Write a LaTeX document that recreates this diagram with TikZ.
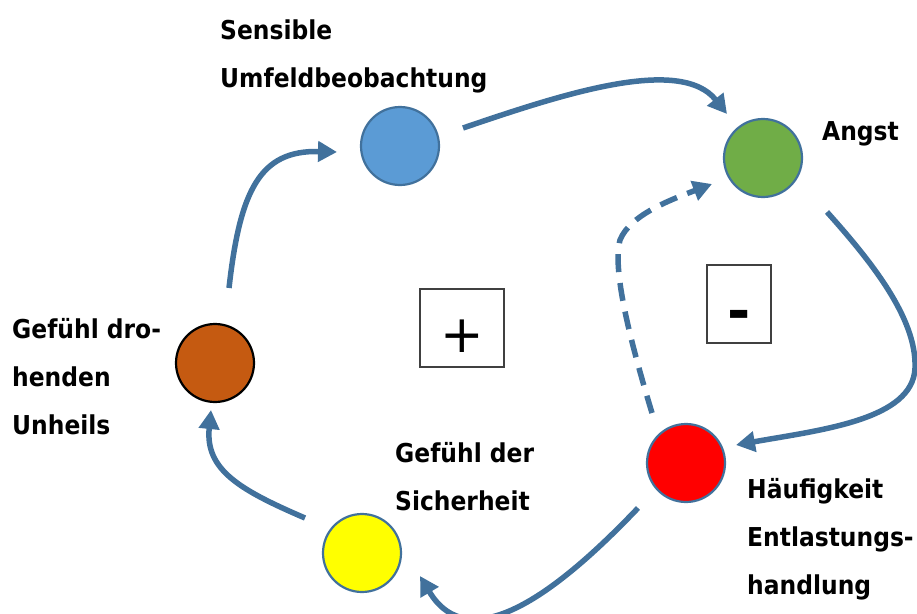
\documentclass[tikz,border=0pt]{standalone}
\usepackage{fontspec}
\newfontfamily\labfont{DejaVu Sans}[FakeStretch=0.9]
\newfontfamily\symfont{DejaVu Sans}
\usetikzlibrary{arrows.meta}
\definecolor{arr}{HTML}{41719C}
\definecolor{cblue}{HTML}{5B9BD5}
\definecolor{cgreen}{HTML}{70AD47}
\definecolor{cred}{HTML}{FF0000}
\definecolor{cyellow}{HTML}{FFFF00}
\definecolor{corange}{HTML}{C55A11}
\begin{document}
\begin{tikzpicture}[x=1pt,y=-1pt,
  circ/.style={circle, draw=arr, line width=2.2pt, minimum size=78pt, inner sep=0pt},
  lab/.style={anchor=base west, font=\labfont\bfseries\fontsize{26}{30}\selectfont, inner sep=0pt},
  box/.style={draw=black!75, line width=1.5pt, inner sep=0pt},
  flow/.style={draw=arr, line width=5.5pt, -{Triangle[length=19pt,width=20pt]}},
  dflow/.style={flow, dash pattern=on 18pt off 11pt}]
\useasboundingbox (0,0) rectangle (917,613);
% circles
\node[circ, fill=cblue] (blue) at (400,146) {};
\node[circ, fill=cgreen] (green) at (763,158) {};
\node[circ, fill=cred] (red) at (686,463) {};
\node[circ, fill=cyellow] (yellow) at (362,553) {};
\node[circ, fill=corange, draw=black] (orange) at (215,363) {};
% boxes
\node[box, minimum width=84pt, minimum height=78pt] (plusbox) at (462,328) {};
\node[font=\symfont\fontsize{52}{52}\selectfont, inner sep=0pt] (plus) at (462,336) {+};
\node[box, minimum width=64pt, minimum height=78pt] (minusbox) at (739,304) {};
\node[font=\symfont\bfseries\fontsize{56}{56}\selectfont, inner sep=0pt] (minus) at (739,320) {-};
% labels
\node[lab] (l1a) at (220,39) {Sensible};
\node[lab] (l1b) at (220,87) {Umfeldbeobachtung};
\node[lab] (l2) at (822,140) {Angst};
\node[lab] (l3a) at (12,338) {Gefühl dro-};
\node[lab] (l3b) at (12,386) {henden};
\node[lab] (l3c) at (12,434) {Unheils};
\node[lab] (l4a) at (395,462) {Gefühl der};
\node[lab] (l4b) at (395,510) {Sicherheit};
\node[lab] (l5a) at (747,498) {Häufigkeit};
\node[lab] (l5b) at (747,546) {Entlastungs-};
\node[lab] (l5c) at (747,594) {handlung};
% connector end points
\coordinate (o1) at (229,288);
\coordinate (b0) at (337,152);
\coordinate (b1) at (463,128);
\coordinate (g0) at (727,114);
\coordinate (g1) at (827,212);
\coordinate (gm) at (915,368);
\coordinate (r0) at (736,445);
\coordinate (r1) at (638,508);
\coordinate (y0) at (420,576);
\coordinate (y1) at (305,518);
\coordinate (o0) at (211,410);
\coordinate (r2) at (652,413);
\coordinate (dm) at (620,240);
\coordinate (g2) at (712,184);
% connectors
\draw[flow] (o1) .. controls (240,190) and (260,150) .. (b0);
\draw[flow] (b1) .. controls (560,95) and (680,55) .. (g0);
\draw[flow] (g1) .. controls (870,260) and (917,318) .. (gm) .. controls (913,420) and (820,430) .. (r0);
\draw[flow] (r1) .. controls (560,590) and (470,660) .. (y0);
\draw[flow] (y1) .. controls (240,490) and (205,470) .. (o0);
\draw[dflow] (r2) .. controls (630,340) and (612,270) .. (dm) .. controls (630,215) and (670,200) .. (g2);
\end{tikzpicture}
\end{document}
